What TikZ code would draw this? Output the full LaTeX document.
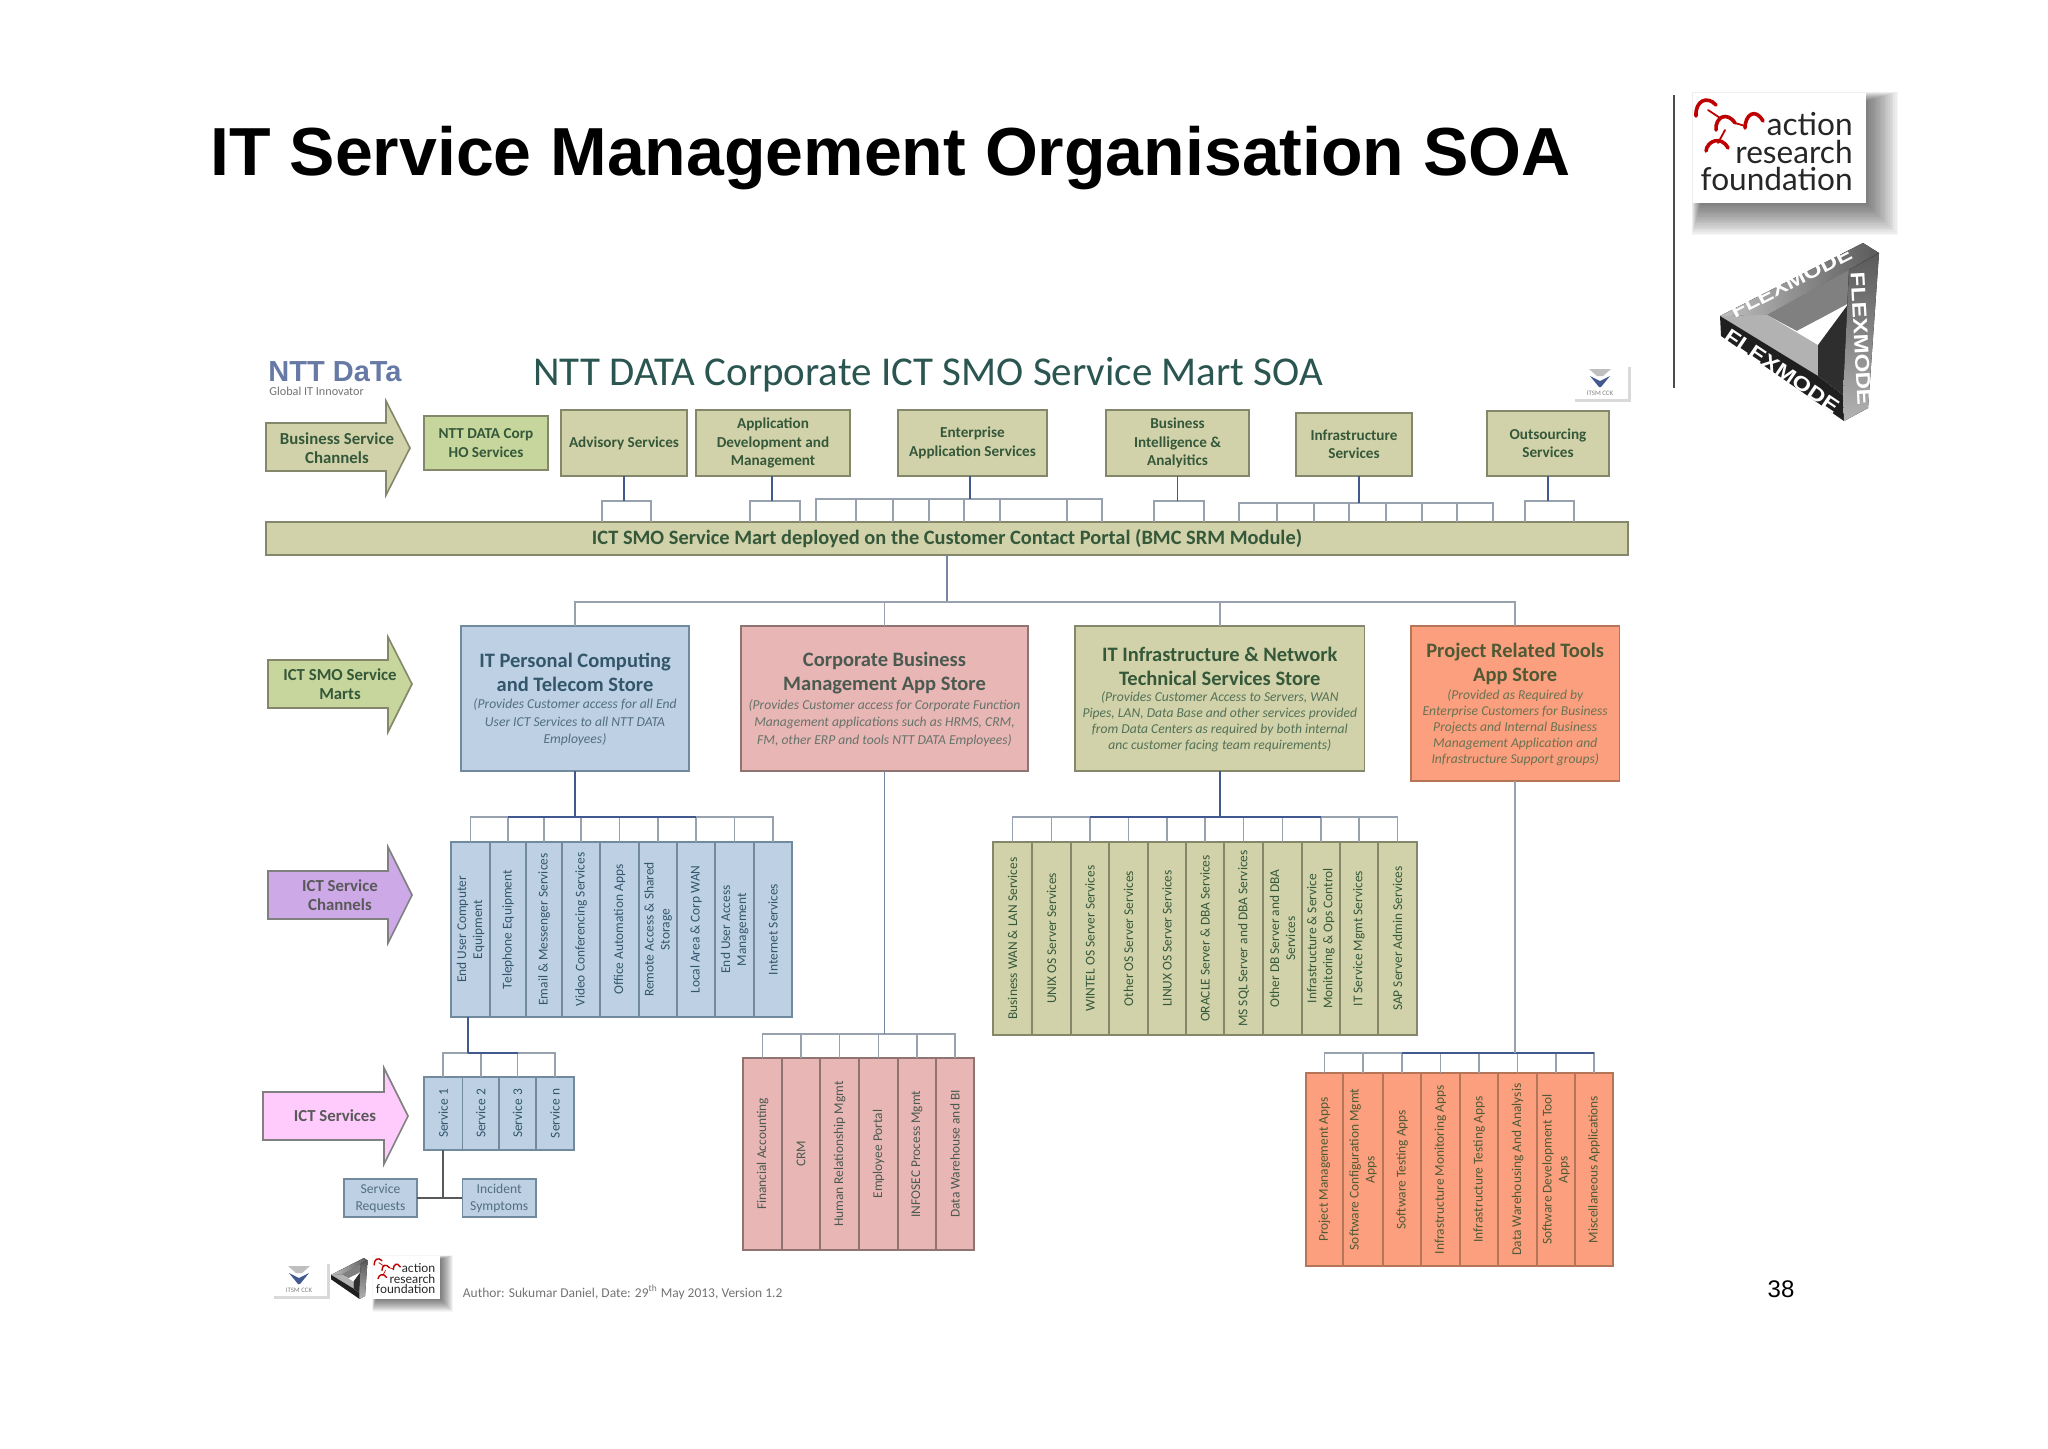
\documentclass[tikz,border=0pt]{standalone}
\usepackage{fontspec}
\usepackage{xcolor}
\setmainfont{Carlito}
\newfontfamily\arialfont{Liberation Sans}
\newfontfamily\latofont{Lato}
\usetikzlibrary{positioning,calc}

\definecolor{olivefill}{HTML}{D1D2A9}
\definecolor{oliveedge}{HTML}{85876A}
\definecolor{olivetext}{HTML}{35583A}
\definecolor{greenfill}{HTML}{C6D69C}
\definecolor{bluefill}{HTML}{BDD0E4}
\definecolor{blueedge}{HTML}{728A9E}
\definecolor{bluetext}{HTML}{34566A}
\definecolor{pinkfill}{HTML}{E8B6B5}
\definecolor{pinkedge}{HTML}{8F7472}
\definecolor{pinktext}{HTML}{4B5A50}
\definecolor{orangefill}{HTML}{FB9F7E}
\definecolor{orangeedge}{HTML}{B57658}
\definecolor{orangetext}{HTML}{4F5A35}
\definecolor{purplefill}{HTML}{CDA9E8}
\definecolor{mauvefill}{HTML}{FFCBFD}
\definecolor{dropline}{HTML}{98A2AE}
\definecolor{stemline}{HTML}{41598F}
\definecolor{titleteal}{HTML}{2A5550}

\tikzset{
    box/.style={draw, line width=.8pt, outer sep=0pt, inner sep=0pt, align=center},
    topbox/.style={box, draw=oliveedge, fill=olivefill, text=olivetext,
        font=\fontsize{7.6}{9.2}\selectfont\bfseries},
    storebox/.style={box, minimum height=72.5pt},
    storehead/.style={align=center, inner sep=0pt, font=\fontsize{10.25}{12}\selectfont\bfseries},
    storesub/.style={align=center, inner sep=0pt, font=\fontsize{6.8}{8.7}\selectfont\itshape},
    arrowtext/.style={align=center, inner sep=0pt, font=\fontsize{8.4}{9.6}\selectfont\bfseries},
    flowarrow/.style={line width=.8pt, line join=miter},
    cell/.style={box, rotate=90, font=\fontsize{6.7}{8}\selectfont},
    pccell/.style={cell, draw=blueedge, fill=bluefill, text=bluetext, minimum width=87.5pt},
    itcell/.style={cell, draw=oliveedge, fill=olivefill, text=olivetext, minimum width=96.5pt},
    corpcell/.style={cell, draw=pinkedge, fill=pinkfill, text=pinktext, minimum width=96pt},
    prjcell/.style={cell, draw=orangeedge, fill=orangefill, text=orangetext, minimum width=96.5pt},
    svccell/.style={cell, draw=blueedge, fill=bluefill, text=bluetext, minimum width=36.5pt},
    drop/.style={draw=dropline, line width=.8pt},
    stem/.style={draw=stemline, line width=.9pt},
    flexword/.style={text=white, inner sep=0pt, xscale=1.2, transform shape,
        font=\arialfont\bfseries\fontsize{10}{10}\selectfont},
}

% logo with the red hooks, corner at (#1,#2), size #3
\newcommand{\arfmark}[3]{
\begin{scope}[shift={(#1,#2)}, scale=#3]
    \foreach \k in {0,...,19}
        \fill[black, opacity=.035] ({8-\k/2},{8-\k/2}) rectangle ({173+1.7*\k},{110+1.7*\k});
    \fill[white] (0,0) rectangle (173,110);
    \begin{scope}[draw=red!75!black, line cap=round, line width={#3*1.8pt}]
        \draw (3,23) .. controls (2,8) and (14,2) .. (23,12);
        \draw (23,37) .. controls (22,24) and (34,18) .. (42,30);
        \draw (52,35) .. controls (52,22) and (62,14) .. (70,28);
        \draw (13,58) .. controls (14,48) and (28,42) .. (35,55);
        \draw[line width={#3*.9pt}] (15,17) -- (27,25) (42,30) -- (52,33) (32,37) -- (25,50);
    \end{scope}
    \node[anchor=base east, inner sep=0pt, text=black!85, transform shape,
        font=\latofont\fontsize{15.8}{15.8}\selectfont] (arfa#1) at (160,42) {action};
    \node[anchor=base east, inner sep=0pt, text=black!85, transform shape,
        font=\latofont\fontsize{15.8}{15.8}\selectfont] (arfb#1) at (160,70) {research};
    \node[anchor=base east, inner sep=0pt, text=black!85, transform shape,
        font=\latofont\fontsize{15.8}{15.8}\selectfont] (arfc#1) at (160,97) {foundation};
\end{scope}
}

% impossible triangle, corner at (#1,#2), size #3
\newcommand{\flexmark}[3]{
\begin{scope}[shift={(#1,#2)}, scale=#3]
    \fill[left color=black!25, right color=black!65] (0,73) -- (143,0) -- (159,10) -- (129,27) -- (47,72) -- cycle;
    \fill[black!50] (47,72) -- (129,27) -- (129,60) -- (77,88) -- cycle;
    \fill[black!30] (0,73) -- (47,72) -- (98,102) -- (98,133) -- cycle;
    \fill[black!88] (0,73) -- (98,133) -- (123,152) -- (124,178) -- (1,93) -- cycle;
    \fill[black!82] (98,102) -- (129,60) -- (123,152) -- (98,133) -- cycle;
    \fill[white] (77,88) -- (98,77) -- (98,102) -- cycle;
    \fill[top color=black!65, bottom color=black!30] (129,27) -- (159,10) -- (148,165) -- (124,178) -- (123,152) -- cycle;
\end{scope}
}

% small blue tree mark in a white tile, corner at (#1,#2)
\newcommand{\treemark}[2]{
\begin{scope}[shift={(#1,#2)}]
    \fill[black!15] (4,5) rectangle (60,40);
    \fill[white] (0,0) rectangle (57,37);
    \fill[black!25] (18,7) -- (40,7) -- (32,14) -- (26,14) -- cycle;
    \fill[stemline] (19,14) -- (29,19) -- (39,14) -- (30,25) -- (28,25) -- cycle;
    \node[text=black!50, inner sep=0pt, font=\fontsize{3.4}{3.4}\selectfont] (itsm#1) at (29,31) {ITSM CCK};
\end{scope}
}

\begin{document}
\begin{tikzpicture}[x=.5pt, y=-.5pt]
    \useasboundingbox (0,0) rectangle (2048,1448);

    % Slide title and page number
    \node[anchor=base west, inner sep=0pt, font=\arialfont\bfseries\fontsize{34}{34}\selectfont] (title) at (210,175) {IT Service Management Organisation SOA};
    \node[inner sep=0pt, font=\arialfont\fontsize{12}{12}\selectfont] (pageno) at (1781,1289) {38};
    \draw[black!70, line width=.7pt] (1674,95) -- (1674,388);

    % Logos on the right
    \arfmark{1693}{93}{1}
    \fill[white] (1715,238) rectangle (1887,423);
    \flexmark{1720}{243}{1}
    \node[rotate=27, flexword] (flextop) at (1791,282) {FLEXMODE};
    \node[rotate=-34, flexword] (flexleft) at (1782,371) {FLEXMODE};
    \node[rotate=-87, flexword] (flexright) at (1861,339) {FLEXMODE};

    % Heading of the chart
    \node[anchor=base west, inner sep=0pt, text=stemline!80, font=\arialfont\bfseries\fontsize{14.5}{14.5}\selectfont] (nttlogo) at (268,381) {NTT DaTa};
    \node[anchor=west, inner sep=0pt, text=black!55, font=\fontsize{6.1}{6.1}\selectfont] (ntttag) at (269,391) {Global IT Innovator};
    \node[anchor=base west, inner sep=0pt, text=titleteal, font=\fontsize{20.5}{20.5}\selectfont] (charttitle) at (533,385) {NTT DATA Corporate ICT SMO Service Mart SOA};
    \treemark{1571}{362}

    % Left hand arrows
    \draw[flowarrow, draw=oliveedge, fill=olivefill] (266,423) -- (386,423) -- (386,401) -- (410,448) -- (386,495) -- (386,471) -- (266,471) -- cycle;
    \node[arrowtext, text=olivetext] (bizchan) at (337,448) {Business Service\\Channels};
    \draw[flowarrow, draw=oliveedge, fill=greenfill] (268,660) -- (388,660) -- (388,637) -- (412,684) -- (388,732) -- (388,708) -- (268,708) -- cycle;
    \node[arrowtext, text=olivetext] (smomarts) at (340,684) {ICT SMO Service\\Marts};
    \draw[flowarrow, draw=black!50, fill=purplefill] (268,871) -- (388,871) -- (388,847) -- (412,895) -- (388,943) -- (388,919) -- (268,919) -- cycle;
    \node[arrowtext, text=black!65] (svcchan) at (340,895) {ICT Service\\Channels};
    \draw[flowarrow, draw=black!50, fill=mauvefill] (263,1092) -- (384,1092) -- (384,1068) -- (408,1116) -- (384,1164) -- (384,1140) -- (263,1140) -- cycle;
    \node[arrowtext, text=black!65] (ictsvc) at (335,1116) {ICT Services};

    % Business service channels
    \node[topbox, fill=greenfill, minimum width=62pt, minimum height=27pt] (corp) at (486,443) {NTT DATA Corp\\HO Services};
    \node[topbox, minimum width=62.75pt, minimum height=33pt] (adv) at (624,443) {Advisory Services};
    \node[topbox, minimum width=77pt, minimum height=33pt] (app) at (773,443) {Application\\Development and\\Management};
    \node[topbox, minimum width=74.5pt, minimum height=33pt] (ent) at (972.5,443) {Enterprise\\Application Services};
    \node[topbox, minimum width=71.5pt, minimum height=33pt] (bi) at (1177.5,443) {Business\\Intelligence \&\\Analyitics};
    \node[topbox, minimum width=58pt, minimum height=31.5pt] (inf) at (1354,444.5) {Infrastructure\\Services};
    \node[topbox, minimum width=60.75pt, minimum height=32.5pt] (out) at (1548,443.5) {Outsourcing\\Services};

    % Service mart bar
    \node[topbox, minimum width=681pt, minimum height=16.5pt, font=\fontsize{10.2}{11}\selectfont\bfseries] (mart) at (947,538.5) {ICT SMO Service Mart deployed on the Customer Contact Portal (BMC SRM Module)};

    % Brackets between channels and bar
    \foreach \src/\sx/\sy/\xlist in {adv/624/501/{602,651}, app/772/501/{750,800}, bi/1177.5/501/{1154,1204}, out/1548/501/{1525,1574},
        ent/970/499/{816,856,893,929,964,1000,1067,1102}, inf/1359/503/{1239,1277,1314,1349,1386,1422,1457,1493}} {
        \coordinate (\src bus) at (\sx,\sy);
        \foreach \x in \xlist {
            \coordinate (tip) at (\x,\sy |- mart.north);
            \draw[drop] (\src bus) -| (tip);
        }
        \draw[stem] (\src bus |- \src.south) -- (\src bus);
    }

    % Stores
    \node[storebox, draw=blueedge, fill=bluefill, minimum width=114pt] (pcstore) at (575,698.5) {};
    \node[storehead, text=bluetext] (pchead) at (575,672) {IT Personal Computing\\and Telecom Store};
    \node[storesub, text=bluetext!85] (pcsub) at (575,722.5) {(Provides Customer access for all End\\User ICT Services to all NTT DATA\\Employees)};
    \node[storebox, draw=pinkedge, fill=pinkfill, minimum width=143.5pt] (corpstore) at (884.5,698.5) {};
    \node[storehead, text=pinktext] (corphead) at (884.5,673) {Corporate Business\\Management App Store};
    \node[storesub, text=pinktext!85] (corpsub) at (884.5,723) {(Provides Customer access for Corporate Function\\Management applications such as HRMS, CRM,\\FM, other ERP and tools NTT DATA Employees)};
    \node[storebox, draw=oliveedge, fill=olivefill, minimum width=144.75pt] (itstore) at (1219.8,698.5) {};
    \node[storehead, text=olivetext] (ithead) at (1219.8,666) {IT Infrastructure \& Network\\Technical Services Store};
    \node[storesub, text=olivetext!85, font=\fontsize{6.8}{8}\selectfont\itshape] (itsub) at (1219.8,722) {(Provides Customer Access to  Servers, WAN\\Pipes, LAN, Data Base and other services provided\\from Data Centers as required by both internal\\anc customer facing team requirements)};
    \node[storebox, draw=orangeedge, fill=orangefill, minimum width=104.25pt, minimum height=77.5pt] (prjstore) at (1515.2,703.5) {};
    \node[storehead, text=orangetext] (prjhead) at (1515.2,663.5) {Project Related Tools\\App Store};
    \node[storesub, text=orangetext!85, font=\fontsize{6.8}{8}\selectfont\itshape] (prjsub) at (1515.2,728) {(Provided as Required by\\Enterprise Customers for Business\\Projects and Internal Business\\Management Application and\\Infrastructure Support groups)};

    % Bar to stores
    \coordinate (mainbus) at (947,602);
    \draw[stem, draw=dropline!60!stemline] (mainbus |- mart.south) -- (mainbus);
    \foreach \store in {pcstore,corpstore,itstore,prjstore}
        \draw[drop] (mainbus) -| (\store.north);

    % End user services
    \foreach \xa/\xb/\txt [count=\i] in {451/490/{End User Computer\\Equipment}, 490/526/Telephone Equipment, 526/562/Email \& Messenger Services,
        562/600/Video Conferencing Services, 600/639/Office Automation Apps, 639/677/{Remote Access \& Shared\\Storage}, 677/715/Local Area \& Corp WAN,
        715/754/{End User Access\\Management}, 754/792/Internet Services}
        \node[pccell, minimum height={(\xb-\xa)*.5pt}] (pc\i) at ({(\xa+\xb)/2},929.5) {\txt};
    \coordinate (pcbus) at (575,817);
    \foreach \i in {1,...,9}
        \draw[drop] (pcbus) -| (pc\i.east);
    \draw[stem] (pcbus -| pc2.east) -- (pcbus -| pc7.east);
    \draw[stem] (pcstore.south) -- (pcbus);

    % Infrastructure services
    \foreach \xa/\xb/\txt [count=\i] in {993/1032/Business WAN \& LAN Services, 1032/1071/UNIX OS Server Services, 1071/1109/WINTEL OS Server Services,
        1109/1148/Other OS Server Services, 1148/1186/LINUX OS Server Services, 1186/1224/ORACLE Server \& DBA Services, 1224/1263/MS SQL Server and DBA Services,
        1263/1302/{Other DB Server and DBA\\Services}, 1302/1340/{Infrastructure \& Service\\Monitoring \& Ops Control}, 1340/1378/IT Service Mgmt Services, 1378/1417/SAP Server Admin Services}
        \node[itcell, minimum height={(\xb-\xa)*.5pt}] (it\i) at ({(\xa+\xb)/2},938.5) {\txt};
    \coordinate (itbus) at (1219.8,817);
    \foreach \i in {1,...,11}
        \draw[drop] (itbus) -| (it\i.east);
    \draw[stem] (itbus -| it3.east) -- (itbus -| it9.east);
    \draw[stem] (itstore.south) -- (itbus);

    % Corporate applications
    \foreach \xa/\xb/\txt [count=\i] in {743/782/Financial Accounting, 782/820/CRM, 820/859/Human Relationship Mgmt, 859/898/Employee Portal,
        898/936/INFOSEC Process Mgmt, 936/974/Data Warehouse and BI}
        \node[corpcell, minimum height={(\xb-\xa)*.5pt}] (co\i) at ({(\xa+\xb)/2},1154) {\txt};
    \coordinate (cobus) at (884.5,1034);
    \foreach \i in {1,...,6}
        \draw[drop] (cobus) -| (co\i.east);
    \draw[drop, draw=dropline!60!stemline] (corpstore.south) -- (cobus);

    % Project applications
    \foreach \xa/\xb/\txt [count=\i] in {1306/1343/Project Management Apps, 1343/1383/{Software Configuration Mgmt\\Apps}, 1383/1421/Software Testing Apps,
        1421/1460/Infrastructure Monitoring Apps, 1460/1498/Infrastructure Testing Apps, 1498/1537/Data Warehousing And Analysis,
        1537/1575/{Software Development Tool\\Apps}, 1575/1613/Miscellaneous Applications}
        \node[prjcell, minimum height={(\xb-\xa)*.5pt}] (pr\i) at ({(\xa+\xb)/2},1169.5) {\txt};
    \coordinate (prbus) at (1515.2,1053);
    \foreach \i in {1,...,8}
        \draw[drop] (prbus) -| (pr\i.east);
    \draw[stem] (prbus -| pr3.east) -- (prbus -| pr8.east);
    \draw[drop] (prjstore.south) -- (prbus);

    % ICT services
    \foreach \xa/\xb/\txt [count=\i] in {424/462.5/Service 1, 462.5/499/Service 2, 499/536/Service 3, 536/574/Service n}
        \node[svccell, minimum height={(\xb-\xa)*.5pt}] (sv\i) at ({(\xa+\xb)/2},1113.5) {\txt};
    \coordinate (svbus) at (468,1053);
    \foreach \i in {1,...,4}
        \draw[drop] (svbus) -| (sv\i.east);
    \draw[stem] (svbus |- pc1.west) -- (svbus);
    \draw[stem] (svbus) -- (svbus -| sv3.east);

    \node[box, draw=blueedge, fill=bluefill, text=bluetext!85, minimum width=36.5pt, minimum height=19pt, font=\fontsize{6.8}{8.4}\selectfont] (svcreq) at (380.5,1198) {Service\\Requests};
    \node[box, draw=blueedge, fill=bluefill, text=bluetext!85, minimum width=36.75pt, minimum height=19pt, font=\fontsize{6.8}{8.4}\selectfont] (incid) at (499.2,1198) {Incident\\Symptoms};
    \coordinate (svhub) at (sv1.west |- svcreq.east);
    \draw[draw=black!65, line width=.8pt] (sv1.west) -- (svhub);
    \draw[draw=black!65, line width=.8pt] (svcreq.east) -- (incid.west);

    % Footer
    \treemark{270}{1259}
    \flexmark{331}{1258}{.23}
    \arfmark{373}{1256}{.39}
    \node[anchor=west, inner sep=0pt, text=black!55, font=\fontsize{6.75}{6.75}\selectfont] (author) at (462.5,1292) {Author: Sukumar Daniel, Date: 29\textsuperscript{th} May 2013, Version 1.2};
\end{tikzpicture}
\end{document}
